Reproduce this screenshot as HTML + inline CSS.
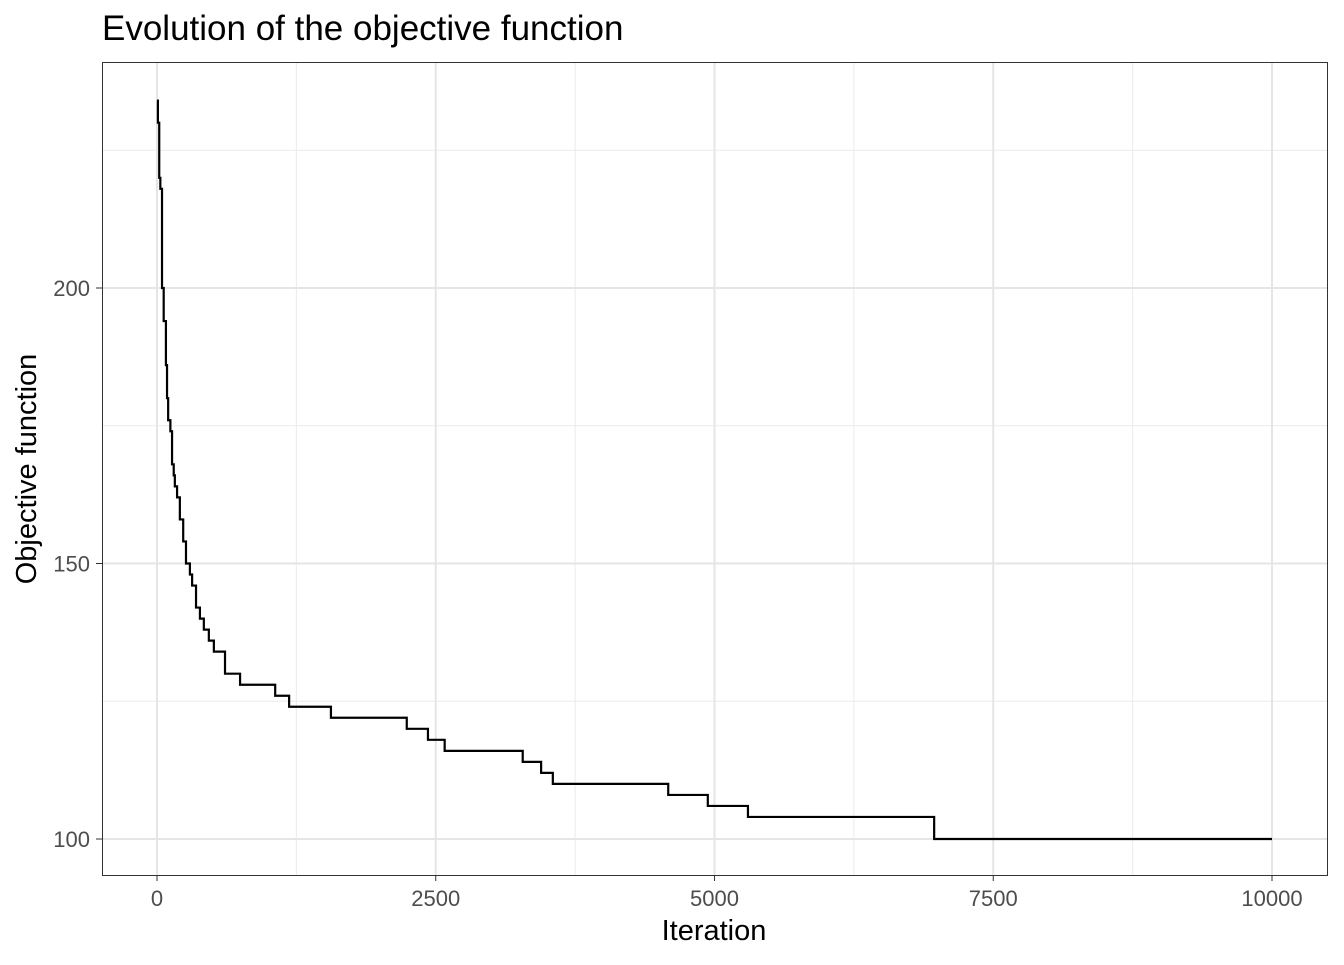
<!DOCTYPE html>
<html><head><meta charset="utf-8"><style>
body{margin:0;background:#fff;font-family:"Liberation Sans",Arial,sans-serif}
</style></head><body>
<svg width="1344" height="960" xmlns="http://www.w3.org/2000/svg">
<rect width="1344" height="960" fill="#fff"/>
<text x="102" y="40" font-size="35" fill="#000">Evolution of the objective function</text>
<g id="grid"></g>
<g id="ticks"></g>
<path id="line" fill="none" stroke="#000" stroke-width="2.2"/>
<rect x="102.5" y="62.5" width="1225" height="813" fill="none" stroke="#333" stroke-width="1"/>
<text x="714" y="940" font-size="29" text-anchor="middle">Iteration</text>
<text transform="translate(36,469) rotate(-90)" font-size="29" text-anchor="middle">Objective function</text>
</svg>
<script>
const iters=[0,8,20,30,45,60,80,90,100,120,135,150,160,180,205,235,260,295,315,350,385,420,465,510,610,745,1060,1185,1560,2240,2430,2580,3280,3445,3550,4585,4940,5300,6970];
const values=[234,230,220,218,200,194,186,180,176,174,168,166,164,162,158,154,150,148,146,142,140,138,136,134,130,128,126,124,122,120,118,116,114,112,110,108,106,104,100];
const lastIter=10000;
const xTicks=[0,2500,5000,7500,10000];
const yTicks=[100,150,200];
const xMinor=[1250,3750,6250,8750];
const yMinor=[125,175,225];
const X=v=>157+v*0.1115, Y=v=>839-(v-100)*5.51;
const NS="http://www.w3.org/2000/svg";
const grid=document.getElementById('grid'), ticks=document.getElementById('ticks');
function ln(p,x1,y1,x2,y2,c,w,name){const l=document.createElementNS(NS,'line');
l.setAttribute('x1',x1);l.setAttribute('y1',y1);l.setAttribute('x2',x2);l.setAttribute('y2',y2);
l.setAttribute('stroke',c);l.setAttribute('stroke-width',w);


p.appendChild(l);}
function tx(x,y,s,anchor,name){const t=document.createElementNS(NS,'text');
t.setAttribute('x',x);t.setAttribute('y',y);t.setAttribute('font-size','22');t.setAttribute('fill','#4d4d4d');t.setAttribute('text-anchor',anchor);t.textContent=s;


ticks.appendChild(t);}
xMinor.forEach(v=>ln(grid,X(v),62,X(v),875,'#ebebeb',1,'x-minor-grid'));
yMinor.forEach(v=>ln(grid,102,Y(v),1327,Y(v),'#ebebeb',1,'y-minor-grid'));
xTicks.forEach(v=>{ln(grid,X(v),62,X(v),875,'#e5e5e5',2,'x-major-grid');ln(ticks,X(v),875,X(v),881,'#333',1,'x-tick');tx(X(v),906,String(v),'middle','x-tick-label');});
yTicks.forEach(v=>{ln(grid,102,Y(v),1327,Y(v),'#e5e5e5',2,'y-major-grid');ln(ticks,96,Y(v),102,Y(v),'#333',1,'y-tick');tx(90,Y(v)+8,String(v),'end','y-tick-label');});
let d='M'+X(iters[0])+' '+Y(values[0]);
for(let i=1;i<iters.length;i++){d+=' H'+X(iters[i])+' V'+Y(values[i]);}
d+=' H'+X(lastIter);
document.getElementById('line').setAttribute('d',d);
</script>
</body></html>
